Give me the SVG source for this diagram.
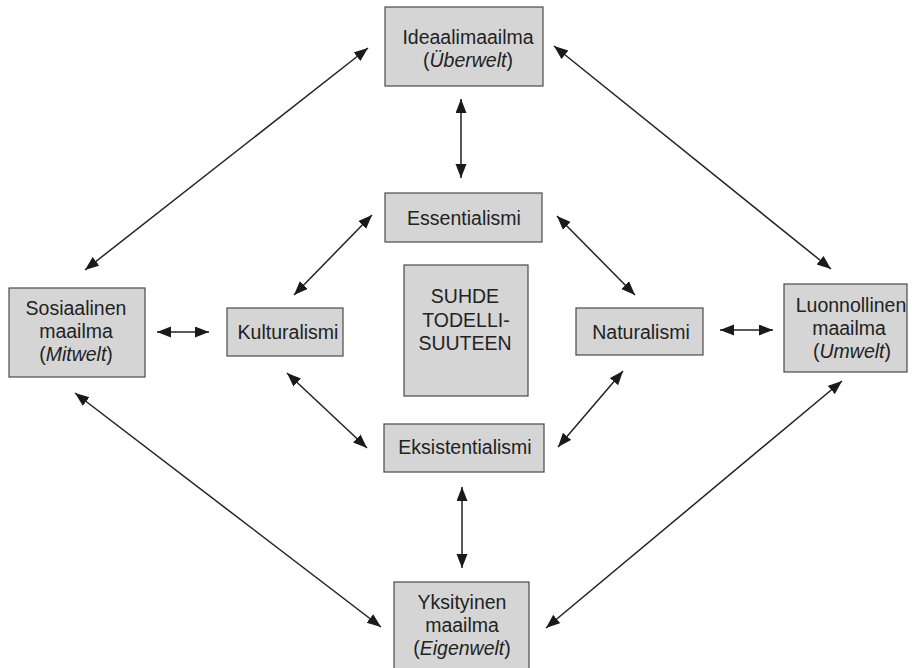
<svg xmlns="http://www.w3.org/2000/svg" width="912" height="668" viewBox="0 0 912 668">
<style>
.box{fill:#d5d5d6;stroke:#4a4a4a;stroke-width:1.2}
.t{font-family:"Liberation Sans",Arial,sans-serif;font-size:19.5px;fill:#222;text-anchor:middle}
.i{font-style:italic}
.c line{stroke:#222;stroke-width:1.5;marker-start:url(#ah);marker-end:url(#ah)}
</style>
<defs>
<marker id="ah" markerUnits="userSpaceOnUse" markerWidth="16" markerHeight="12" refX="14" refY="5.5" orient="auto-start-reverse">
<path d="M0,0 L14,5.5 L0,11 z" fill="#1a1a1a"/>
</marker>
</defs>
<rect width="912" height="668" fill="#fff"/>
<g class="c" id="connectors">
<line x1="368" y1="48" x2="85" y2="270"/>
<line x1="554" y1="46" x2="831" y2="269"/>
<line x1="75" y1="393" x2="381" y2="627"/>
<line x1="546" y1="628" x2="842" y2="381"/>
<line x1="461" y1="99" x2="461" y2="178"/>
<line x1="462" y1="487" x2="462" y2="568"/>
<line x1="157" y1="332" x2="209" y2="332"/>
<line x1="720" y1="330" x2="773" y2="330"/>
<line x1="372" y1="215" x2="294" y2="295"/>
<line x1="557" y1="216" x2="635" y2="295"/>
<line x1="287" y1="373" x2="367" y2="448"/>
<line x1="623" y1="371" x2="558" y2="447"/>
</g>
<g id="ideaali">
<rect class="box" x="385" y="7" width="158" height="79"/>
<text class="t" x="468" y="44">Ideaalimaailma</text>
<text class="t" x="468" y="67">(<tspan class="i">Überwelt</tspan>)</text>
</g>
<g id="sosiaalinen">
<rect class="box" x="9" y="288" width="136" height="89"/>
<text class="t" x="76" y="315">Sosiaalinen</text>
<text class="t" x="76" y="338">maailma</text>
<text class="t" x="76" y="361">(<tspan class="i">Mitwelt</tspan>)</text>
</g>
<g id="luonnollinen">
<rect class="box" x="784" y="284" width="123" height="88"/>
<text class="t" x="851" y="312">Luonnollinen</text>
<text class="t" x="849" y="335">maailma</text>
<text class="t" x="852" y="358">(<tspan class="i">Umwelt</tspan>)</text>
</g>
<g id="yksityinen">
<rect class="box" x="394" y="582" width="135" height="90"/>
<text class="t" x="462" y="609">Yksityinen</text>
<text class="t" x="462" y="632">maailma</text>
<text class="t" x="462" y="655">(<tspan class="i">Eigenwelt</tspan>)</text>
</g>
<g id="essentialismi">
<rect class="box" x="385" y="193" width="157" height="49"/>
<text class="t" x="464" y="225">Essentialismi</text>
</g>
<g id="eksistentialismi">
<rect class="box" x="384" y="424" width="160" height="48"/>
<text class="t" x="465" y="454">Eksistentialismi</text>
</g>
<g id="kulturalismi">
<rect class="box" x="227" y="308" width="116" height="48"/>
<text class="t" x="288" y="339">Kulturalismi</text>
</g>
<g id="naturalismi">
<rect class="box" x="576" y="308" width="127" height="47"/>
<text class="t" x="641" y="339">Naturalismi</text>
</g>
<g id="suhde">
<rect class="box" x="404" y="265" width="124" height="131"/>
<text class="t" x="465" y="303">SUHDE</text>
<text class="t" x="466" y="326.5">TODELLI-</text>
<text class="t" x="465" y="350">SUUTEEN</text>
</g>
</svg>
